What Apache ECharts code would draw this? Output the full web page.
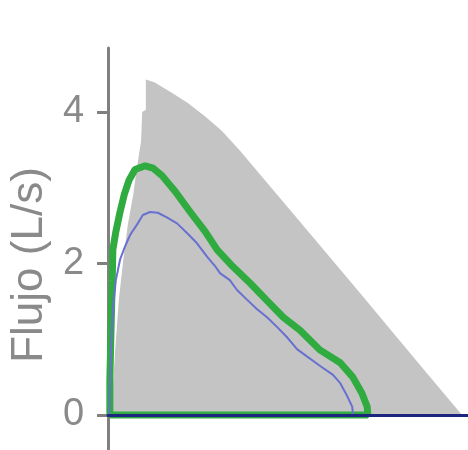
<!DOCTYPE html>
<html>
<head>
<meta charset="utf-8">
<script src="https://cdn.jsdelivr.net/npm/echarts@6/dist/echarts.min.js"></script>
<style>
  html, body { margin: 0; padding: 0; background: #fff; }
  #chart { width: 468px; height: 450px; }
</style>
</head>
<body>
<div id="chart"></div>
<script>
// valores (volumen en L, flujo en L/s)
var yTicks = [0, 2, 4];

// zona gris (predicho)
var grayVol  = [0.02, 0.07, 0.12, 0.18, 0.25, 0.33, 0.42, 0.48, 0.55, 0.57, 0.63, 0.63, 0.78, 1.07, 1.33, 1.62, 1.90, 2.20, 3.20, 4.20, 5.20, 5.90];
var grayFlow = [0, 0.26, 0.86, 1.52, 2.02, 2.51, 2.91, 3.26, 3.61, 4.00, 4.03, 4.43, 4.39, 4.25, 4.12, 3.94, 3.75, 3.49, 2.55, 1.61, 0.66, 0];

// curva verde
var greenVol  = [0.03, 0.03, 0.05, 0.07, 0.08, 0.13, 0.20, 0.27, 0.35, 0.45, 0.62, 0.75, 0.90, 1.12, 1.37, 1.62, 1.82, 2.08, 2.37, 2.65, 2.92, 3.20, 3.53, 3.87, 4.08, 4.23, 4.32, 4.33, 0.03];
var greenFlow = [0, 0.46, 1.12, 1.78, 2.18, 2.42, 2.68, 2.91, 3.10, 3.24, 3.29, 3.26, 3.16, 2.95, 2.68, 2.42, 2.18, 1.96, 1.74, 1.51, 1.29, 1.12, 0.86, 0.69, 0.50, 0.29, 0.11, 0, 0];

// curva azul
var blueVol  = [0.02, 0.03, 0.05, 0.08, 0.13, 0.20, 0.28, 0.37, 0.48, 0.58, 0.70, 0.83, 0.98, 1.15, 1.32, 1.48, 1.65, 1.78, 1.87, 2.03, 2.15, 2.32, 2.48, 2.65, 2.82, 2.98, 3.15, 3.32, 3.53, 3.75, 3.87, 3.98, 4.07, 4.08, 4.08, 0.02];
var blueFlow = [0, 0.33, 0.86, 1.39, 1.78, 2.05, 2.22, 2.38, 2.51, 2.64, 2.68, 2.67, 2.61, 2.53, 2.40, 2.27, 2.09, 1.97, 1.87, 1.78, 1.65, 1.52, 1.40, 1.29, 1.16, 1.03, 0.87, 0.77, 0.65, 0.53, 0.42, 0.26, 0.11, 0.03, 0, 0];

function pares(xs, ys) {
  var out = [];
  for (var i = 0; i < xs.length; i++) out.push([xs[i], ys[i]]);
  return out;
}

var chart = echarts.init(document.getElementById('chart'));

var option = {
  animation: false,
  grid: { left: 108, right: 0, top: 48, bottom: 0 },
  xAxis: {
    type: 'value',
    min: 0,
    max: 6,
    z: 10,
    axisLine: { onZero: true, lineStyle: { color: '#1c2580', width: 3 } },
    axisTick: { show: false },
    axisLabel: { show: false },
    splitLine: { show: false }
  },
  yAxis: {
    type: 'value',
    min: -0.462,
    max: 4.845,
    name: 'Flujo (L/s)',
    nameLocation: 'middle',
    nameGap: 48,
    nameTextStyle: { color: '#8a8a8a', fontSize: 44, fontFamily: 'Liberation Sans', padding: [0, 32, 0, 0] },
    axisLine: { show: true, lineStyle: { color: '#808080', width: 3 } },
    axisTick: { show: true, length: 11, customValues: yTicks, lineStyle: { color: '#808080', width: 3 } },
    axisLabel: { customValues: yTicks, margin: 24, color: '#8a8a8a', fontSize: 38, fontFamily: 'Liberation Sans' },
    splitLine: { show: false }
  },
  series: [
    {
      type: 'line',
      data: pares(grayVol, grayFlow),
      symbol: 'none',
      lineStyle: { width: 0 },
      areaStyle: { color: '#c4c4c4', opacity: 1 },
      z: 1
    },
    {
      type: 'line',
      data: pares(greenVol, greenFlow),
      symbol: 'none',
      lineStyle: { color: '#2fab40', width: 7 },
      z: 2
    },
    {
      type: 'line',
      data: pares(blueVol, blueFlow),
      symbol: 'none',
      lineStyle: { color: '#6870d0', width: 2 },
      z: 3
    }
  ]
};

chart.setOption(option);
</script>
</body>
</html>
